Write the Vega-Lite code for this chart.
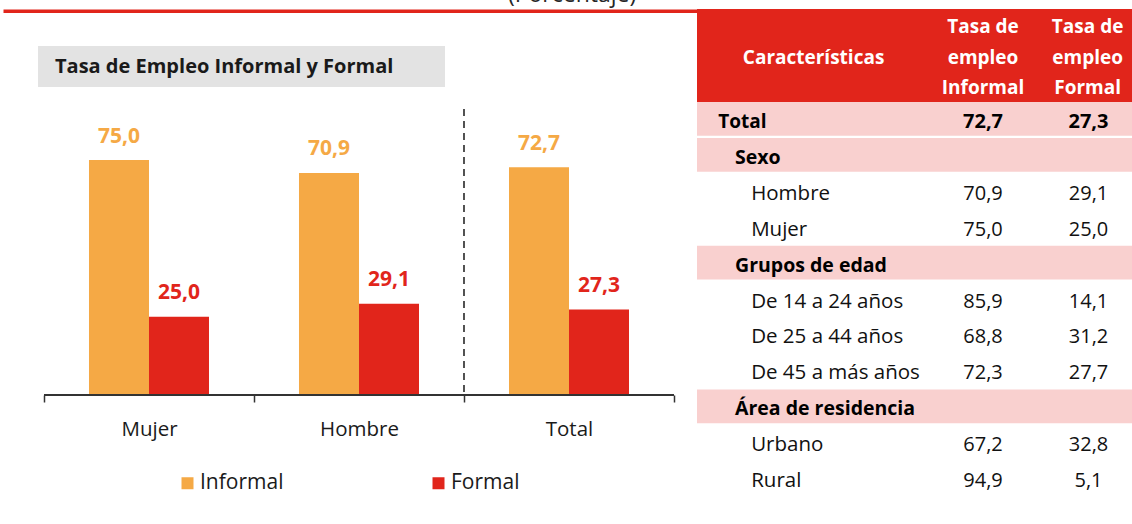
{
  "$schema": "https://vega.github.io/schema/vega-lite/v6.json",
  "padding": {"left": 3, "top": 0, "right": 0, "bottom": 0},
  "background": "white",
  "config": {
    "font": "Open Sans",
    "view": {"stroke": null},
    "locale": {"number": {"decimal": ",", "thousands": ".", "grouping": [3], "currency": ["", " €"]}}
  },
  "datasets": {
    "barras": [
      {"grupo": "Mujer", "tipo": "Informal", "valor": 75.0},
      {"grupo": "Mujer", "tipo": "Formal", "valor": 25.0},
      {"grupo": "Hombre", "tipo": "Informal", "valor": 70.9},
      {"grupo": "Hombre", "tipo": "Formal", "valor": 29.1},
      {"grupo": "Total", "tipo": "Informal", "valor": 72.7},
      {"grupo": "Total", "tipo": "Formal", "valor": 27.3}
    ],
    "tabla": [
      {"orden": 1, "caracteristica": "Total", "nivel": "total", "informal": 72.7, "formal": 27.3},
      {"orden": 2, "caracteristica": "Sexo", "nivel": "grupo"},
      {"orden": 3, "caracteristica": "Hombre", "nivel": "item", "informal": 70.9, "formal": 29.1},
      {"orden": 4, "caracteristica": "Mujer", "nivel": "item", "informal": 75.0, "formal": 25.0},
      {"orden": 5, "caracteristica": "Grupos de edad", "nivel": "grupo"},
      {"orden": 6, "caracteristica": "De 14 a 24 años", "nivel": "item", "informal": 85.9, "formal": 14.1},
      {"orden": 7, "caracteristica": "De 25 a 44 años", "nivel": "item", "informal": 68.8, "formal": 31.2},
      {"orden": 8, "caracteristica": "De 45 a más años", "nivel": "item", "informal": 72.3, "formal": 27.7},
      {"orden": 9, "caracteristica": "Área de residencia", "nivel": "grupo"},
      {"orden": 10, "caracteristica": "Urbano", "nivel": "item", "informal": 67.2, "formal": 32.8},
      {"orden": 11, "caracteristica": "Rural", "nivel": "item", "informal": 94.9, "formal": 5.1}
    ]
  },
  "spacing": 0,
  "hconcat": [
    {
      "spacing": 12,
      "vconcat": [
        {
          "width": 694,
          "height": 10.75,
          "data": {"values": [{"t": "(Porcentaje)"}]},
          "mark": {"type": "text", "clip": true, "fontSize": 23, "color": "#262626", "baseline": "alphabetic", "dy": -3.4},
          "encoding": {
            "text": {"field": "t", "type": "nominal"},
            "x": {"datum": 82, "type": "quantitative", "scale": {"domain": [0, 100]},
              "axis": {"orient": "bottom", "domainColor": "#E1251B", "domainWidth": 3.5, "ticks": false, "labels": false, "grid": false, "title": null, "minExtent": 0, "maxExtent": 0}}
          }
        },
        {
          "width": 442,
          "height": 41,
          "data": {"values": [{"titulo": "Tasa de Empleo Informal y Formal"}]},
          "layer": [
            {
              "mark": {"type": "rect", "color": "#E3E3E3"},
              "encoding": {
                "x": {"datum": 7.92, "type": "quantitative", "scale": {"domain": [0, 100]},
                  "axis": {"orient": "top", "domain": false, "ticks": false, "labels": false, "grid": false, "title": null, "minExtent": 22.5, "maxExtent": 22.5}},
                "x2": {"datum": 100},
                "y": {"datum": 0, "type": "quantitative", "scale": {"domain": [0, 1]}, "axis": null},
                "y2": {"datum": 1}
              }
            },
            {
              "mark": {"type": "text", "align": "left", "baseline": "middle", "fontWeight": "bold", "fontSize": 20, "color": "#1a1a1a"},
              "encoding": {
                "text": {"field": "titulo", "type": "nominal"},
                "x": {"datum": 11.76, "type": "quantitative"},
                "y": {"datum": 0.5, "type": "quantitative"}
              }
            }
          ]
        },
        {
          "width": 671,
          "height": 296,
          "data": {"name": "barras"},
          "encoding": {
            "x": {"field": "grupo", "type": "nominal", "sort": ["Mujer", "Hombre", "Total"],
              "scale": {"paddingInner": 0, "paddingOuter": 0.0976, "align": 1},
              "axis": {"title": null, "domain": false, "tickBand": "extent", "tickColor": "#333333", "tickWidth": 1.5, "tickSize": 7, "labelAngle": 0, "labelFontSize": 20.5, "labelColor": "#1a1a1a", "labelPadding": 17}}
          },
          "layer": [
            {
              "mark": {"type": "bar"},
              "encoding": {
                "xOffset": {"field": "tipo", "type": "nominal", "sort": ["Informal", "Formal"], "scale": {"paddingInner": 0, "paddingOuter": 0.75}},
                "y": {"field": "valor", "type": "quantitative", "scale": {"domain": [0, 94.5], "nice": false, "zero": true}, "axis": null},
                "color": {"field": "tipo", "type": "nominal", "sort": ["Informal", "Formal"],
                  "scale": {"domain": ["Informal", "Formal"], "range": ["#F5A945", "#E1251B"]},
                  "legend": {"title": null, "orient": "none", "legendX": 174, "legendY": 472.5, "direction": "horizontal", "symbolType": "square", "symbolSize": 144, "symbolStrokeWidth": 0, "labelFontSize": 21, "labelColor": "#1a1a1a", "columnPadding": 144, "labelOffset": 2, "padding": 0}}
              }
            },
            {
              "mark": {"type": "text", "fontWeight": "bold", "fontSize": 21, "baseline": "alphabetic", "dy": -17.5},
              "encoding": {
                "xOffset": {"field": "tipo", "type": "nominal", "sort": ["Informal", "Formal"]},
                "y": {"field": "valor", "type": "quantitative"},
                "text": {"field": "valor", "type": "quantitative", "format": ".1f"},
                "color": {"field": "tipo", "type": "nominal", "legend": null}
              }
            },
            {
              "transform": [{"filter": "datum.tipo == 'Informal'"}],
              "mark": {"type": "bar", "color": "#333333"},
              "encoding": {
                "y": {"datum": 0.32, "type": "quantitative"},
                "y2": {"datum": -0.32}
              }
            },
            {
              "data": {"values": [{"grupo": "Total"}]},
              "mark": {"type": "rule", "strokeDash": [7, 5], "color": "#1a1a1a", "strokeWidth": 1.5},
              "encoding": {
                "x": {"field": "grupo", "type": "nominal", "sort": ["Mujer", "Hombre", "Total"], "bandPosition": 0},
                "y": {"datum": 91.3, "type": "quantitative"},
                "y2": {"datum": 0}
              }
            }
          ]
        }
      ]
    },
    {
      "spacing": 0,
      "vconcat": [
        {
          "width": 435,
          "height": 9,
          "view": {"fill": "white", "stroke": null},
          "data": {"values": [{"t": ""}]},
          "mark": {"type": "text", "clip": true},
          "encoding": {"text": {"field": "t", "type": "nominal"}}
        },
        {
          "width": 435,
          "height": 93,
          "view": {"fill": "#E1251B", "stroke": null},
          "data": {"values": [{"c": "Características", "i": ["Tasa de", "empleo", "Informal"], "f": ["Tasa de", "empleo", "Formal"]}]},
          "layer": [
            {
              "mark": {"type": "text", "color": "white", "fontWeight": "bold", "fontSize": 19, "baseline": "middle", "dy": 2},
              "encoding": {"text": {"field": "c", "type": "nominal"},
                "x": {"datum": 26.8, "type": "quantitative", "scale": {"domain": [0, 100]}, "axis": null}}
            },
            {
              "mark": {"type": "text", "color": "white", "fontWeight": "bold", "fontSize": 19, "baseline": "middle", "lineHeight": 30.5, "dy": -28.5},
              "encoding": {"text": {"field": "i"}, "x": {"datum": 65.75, "type": "quantitative"}}
            },
            {
              "mark": {"type": "text", "color": "white", "fontWeight": "bold", "fontSize": 19, "baseline": "middle", "lineHeight": 30.5, "dy": -28.5},
              "encoding": {"text": {"field": "f"}, "x": {"datum": 89.8, "type": "quantitative"}}
            }
          ]
        },
        {
          "width": 435,
          "height": 393,
          "data": {"name": "tabla"},
          "encoding": {
            "y": {"field": "orden", "type": "ordinal", "scale": {"domain": [1, 2, 3, 4, 5, 6, 7, 8, 9, 10, 11], "paddingInner": 0.06, "paddingOuter": 0}, "axis": null}
          },
          "layer": [
            {
              "transform": [{"filter": "datum.nivel != 'item'"}],
              "mark": {"type": "rect", "color": "#F9D0CF"},
              "encoding": {
                "x": {"datum": 0, "type": "quantitative", "scale": {"domain": [0, 100]}, "axis": null},
                "x2": {"datum": 100}
              }
            },
            {
              "transform": [{"filter": "datum.nivel == 'total'"}],
              "mark": {"type": "text", "align": "left", "baseline": "middle", "fontWeight": "bold", "fontSize": 19, "color": "#000000", "dy": 3},
              "encoding": {"text": {"field": "caracteristica", "type": "nominal"}, "x": {"datum": 4.9, "type": "quantitative"}}
            },
            {
              "transform": [{"filter": "datum.nivel == 'grupo'"}],
              "mark": {"type": "text", "align": "left", "baseline": "middle", "fontWeight": "bold", "fontSize": 19.5, "color": "#000000", "dy": 3},
              "encoding": {"text": {"field": "caracteristica", "type": "nominal"}, "x": {"datum": 8.74, "type": "quantitative"}}
            },
            {
              "transform": [{"filter": "datum.nivel == 'item'"}],
              "mark": {"type": "text", "align": "left", "baseline": "middle", "fontSize": 20.5, "color": "#111111", "dy": 3},
              "encoding": {"text": {"field": "caracteristica", "type": "nominal"}, "x": {"datum": 12.45, "type": "quantitative"}}
            },
            {
              "transform": [{"filter": "datum.nivel == 'total'"}],
              "mark": {"type": "text", "align": "center", "baseline": "middle", "fontWeight": "bold", "fontSize": 20, "color": "#000000", "dy": 3},
              "encoding": {"text": {"field": "informal", "type": "quantitative", "format": ".1f"}, "x": {"datum": 65.75, "type": "quantitative"}}
            },
            {
              "transform": [{"filter": "datum.nivel == 'total'"}],
              "mark": {"type": "text", "align": "center", "baseline": "middle", "fontWeight": "bold", "fontSize": 20, "color": "#000000", "dy": 3},
              "encoding": {"text": {"field": "formal", "type": "quantitative", "format": ".1f"}, "x": {"datum": 90.0, "type": "quantitative"}}
            },
            {
              "transform": [{"filter": "datum.nivel == 'item'"}],
              "mark": {"type": "text", "align": "center", "baseline": "middle", "fontSize": 20, "color": "#111111", "dy": 3},
              "encoding": {"text": {"field": "informal", "type": "quantitative", "format": ".1f"}, "x": {"datum": 65.75, "type": "quantitative"}}
            },
            {
              "transform": [{"filter": "datum.nivel == 'item'"}],
              "mark": {"type": "text", "align": "center", "baseline": "middle", "fontSize": 20, "color": "#111111", "dy": 3},
              "encoding": {"text": {"field": "formal", "type": "quantitative", "format": ".1f"}, "x": {"datum": 90.0, "type": "quantitative"}}
            }
          ]
        }
      ]
    }
  ]
}
